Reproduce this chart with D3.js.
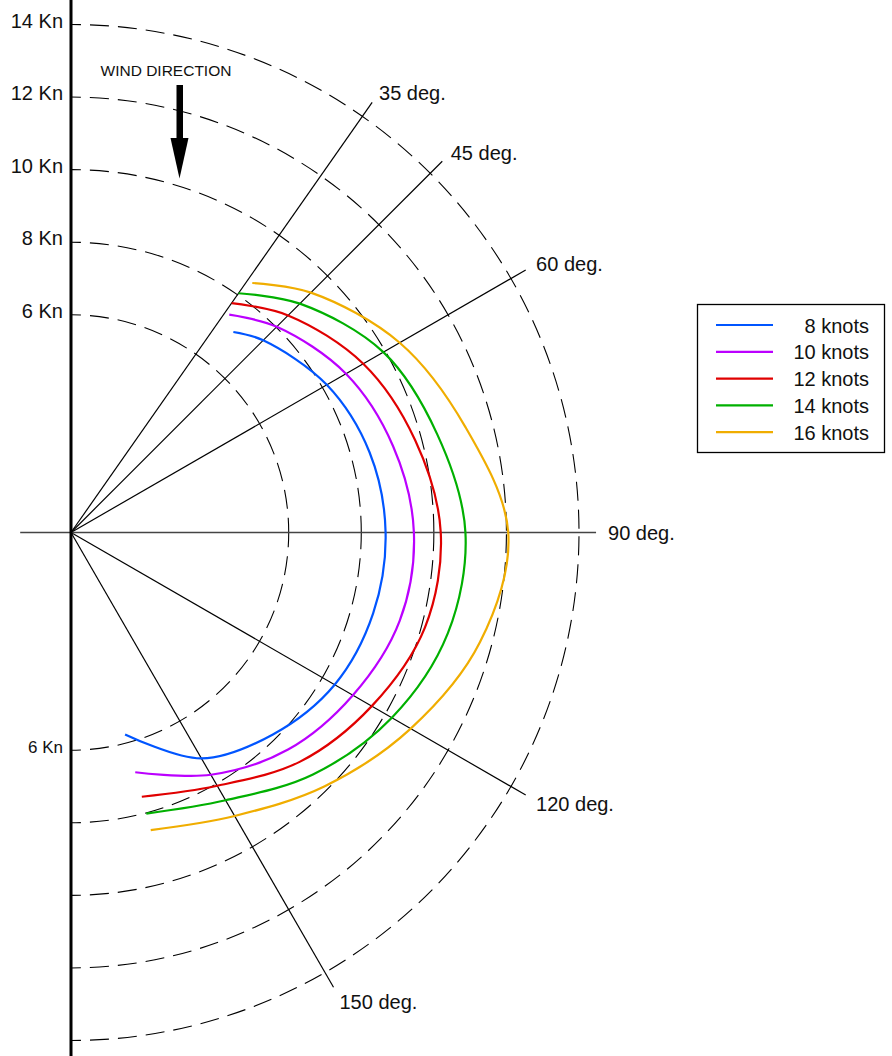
<!DOCTYPE html>
<html>
<head>
<meta charset="utf-8">
<script src="https://cdn.jsdelivr.net/npm/d3@7"></script>
<style>
  body { margin: 0; background: #fff; }
  svg { display: block; font-family: "Liberation Sans", Arial, sans-serif; }
</style>
</head>
<body>
<div id="chart"></div>
<script>
// rings (boat speed, knots) and rays (true wind angle, degrees)
const ringKnots = [6, 8, 10, 12, 14];
const rayDegrees = [35, 45, 60, 90, 120, 150];

// wind speeds in the legend
const windSpeeds = [8, 10, 12, 14, 16];
const seriesColors = ["#0055ff", "#bb00ff", "#e00000", "#00b000", "#f0ad00"];

// polar data: true wind angle -> boat speed
const angles8 = [39, 45, 60, 75, 90, 105, 120, 135, 150, 165];
const speeds8 = [7.11, 7.49, 8.14, 8.52, 8.67, 8.62, 8.39, 7.87, 7.19, 5.76];
const angles10 = [36, 45, 60, 75, 90, 105, 120, 135, 150, 165];
const speeds10 = [7.42, 8.02, 8.75, 9.19, 9.45, 9.38, 8.97, 8.46, 7.71, 6.84];
const angles12 = [35, 45, 60, 75, 90, 105, 120, 135, 150, 165];
const speeds12 = [7.72, 8.46, 9.30, 9.82, 10.19, 10.10, 9.57, 8.93, 8.06, 7.54];
const angles14 = [35, 45, 60, 75, 90, 105, 120, 135, 150, 165];
const speeds14 = [8.05, 8.92, 9.94, 10.45, 10.87, 10.75, 10.21, 9.43, 8.52, 8.02];
const angles16 = [36, 45, 60, 75, 90, 105, 120, 135, 150, 165];
const speeds16 = [8.50, 9.35, 10.46, 11.25, 12.05, 11.67, 10.81, 9.89, 9.02, 8.49];

const allAngles = [angles8, angles10, angles12, angles14, angles16];
const allSpeeds = [speeds8, speeds10, speeds12, speeds14, speeds16];

const W = 892, H = 1056;
const cx = 71, cy = 532.5;
const rad = d => d * Math.PI / 180;

const r = d3.scaleLinear().domain([0, 14]).range([0, 508]);
const rayLen = r(14.47);

const svg = d3.select("#chart").append("svg")
    .attr("width", W)
    .attr("height", H);

// dashed rings, drawn as two quarter arcs starting at the axis
const rings = svg.append("g").attr("class", "rings")
    .attr("fill", "none")
    .attr("stroke", "#000")
    .attr("stroke-width", 1.1)
    .attr("stroke-dasharray", "19,9")
    .attr("stroke-dashoffset", 9);

ringKnots.forEach(k => {
    const R = r(k);
    const top = d3.path();
    top.moveTo(cx, cy - R);
    top.arc(cx, cy, R, -Math.PI / 2, 0, false);
    rings.append("path").attr("d", top.toString());
    const bottom = d3.path();
    bottom.moveTo(cx, cy + R);
    bottom.arc(cx, cy, R, Math.PI / 2, 0, true);
    rings.append("path").attr("d", bottom.toString());
});

// rays
const rays = svg.append("g").attr("class", "rays");
rays.selectAll("line")
    .data(rayDegrees.filter(d => d !== 90))
    .join("line")
    .attr("x1", cx).attr("y1", cy)
    .attr("x2", d => cx + rayLen * Math.sin(rad(d)))
    .attr("y2", d => cy - rayLen * Math.cos(rad(d)))
    .attr("stroke", "#000")
    .attr("stroke-width", 1.2);

// horizontal axis (90 deg.)
svg.append("line")
    .attr("x1", cx - r(1.4)).attr("y1", cy)
    .attr("x2", cx + rayLen).attr("y2", cy)
    .attr("stroke", "#444")
    .attr("stroke-width", 1.6);

// ray labels
rays.selectAll("text")
    .data(rayDegrees)
    .join("text")
    .attr("x", d => cx + r(14.8) * Math.sin(rad(d)))
    .attr("y", d => cy - r(14.8) * Math.cos(rad(d)) + 7 + 5 * Math.max(0, -Math.cos(rad(d))))
    .attr("font-size", 20)
    .attr("fill", "#111")
    .text(d => `${d} deg.`);

// vertical axis
svg.append("line")
    .attr("x1", cx).attr("y1", 0)
    .attr("x2", cx).attr("y2", H)
    .attr("stroke", "#000")
    .attr("stroke-width", 3);

// ring labels
svg.append("g").attr("class", "ring_labels")
    .selectAll("text")
    .data(ringKnots)
    .join("text")
    .attr("x", cx - 8)
    .attr("y", d => Math.max(cy - r(d) + 3, 25))
    .attr("text-anchor", "end")
    .attr("font-size", 20)
    .attr("fill", "#111")
    .text(d => `${d} Kn`);

svg.append("text")
    .attr("x", cx - 8)
    .attr("y", cy + r(ringKnots[0]) + 3)
    .attr("text-anchor", "end")
    .attr("font-size", 17)
    .attr("fill", "#111")
    .text(`${ringKnots[0]} Kn`);

// wind direction
svg.append("text")
    .attr("x", 166)
    .attr("y", 76)
    .attr("text-anchor", "middle")
    .attr("font-size", 15.5)
    .attr("fill", "#111")
    .text("WIND DIRECTION");
svg.append("rect")
    .attr("x", 176.5).attr("y", 85)
    .attr("width", 6.5).attr("height", 55)
    .attr("fill", "#000");
svg.append("path")
    .attr("d", "M170.5,138 L188.5,138 L179.5,178.5 Z")
    .attr("fill", "#000");

// polar curves
const line = d3.lineRadial()
    .angle(d => rad(d[0]))
    .radius(d => r(d[1]))
    .curve(d3.curveCatmullRom.alpha(0.5));

svg.append("g").attr("class", "curves")
    .attr("transform", `translate(${cx},${cy})`)
    .selectAll("path")
    .data(windSpeeds.map((w, i) => ({wind: w, color: seriesColors[i], pts: d3.zip(allAngles[i], allSpeeds[i])})))
    .join("path")
    .attr("d", d => line(d.pts))
    .attr("fill", "none")
    .attr("stroke", d => d.color)
    .attr("stroke-width", 2.2);

// legend
const legend = svg.append("g").attr("class", "legend");
legend.append("rect")
    .attr("x", 697.5).attr("y", 304.5)
    .attr("width", 187).attr("height", 148)
    .attr("fill", "#fff")
    .attr("stroke", "#000")
    .attr("stroke-width", 1.3);
const items = legend.selectAll("g.item")
    .data(windSpeeds)
    .join("g").attr("class", "item")
    .attr("transform", (d, i) => `translate(0, ${325 + i * 26.8})`);
items.append("line")
    .attr("x1", 716).attr("x2", 773)
    .attr("stroke", (d, i) => seriesColors[i])
    .attr("stroke-width", 2.2);
items.append("text")
    .attr("x", 869)
    .attr("y", 7.5)
    .attr("text-anchor", "end")
    .attr("font-size", 20)
    .attr("fill", "#111")
    .text(d => `${d} knots`);
</script>
</body>
</html>
